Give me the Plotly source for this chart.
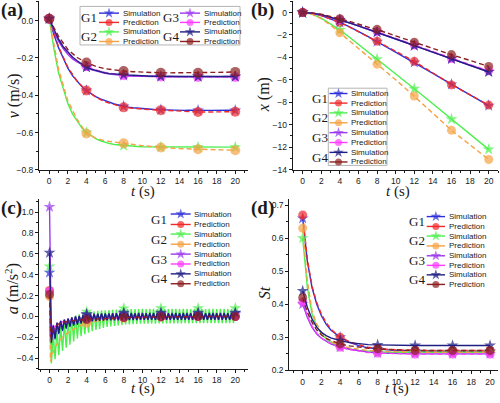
import plotly.graph_objects as go

W, H = 500, 403

# ---------------- data ----------------
groups = ["G1", "G2", "G3", "G4"]

# (a) velocity v (m/s)
t_v_sim = [i * 0.5 for i in range(41)]
v_sim = {
    "G1": [0.01, -0.075, -0.145, -0.205, -0.255, -0.295, -0.327, -0.353, -0.375, -0.392,
           -0.407, -0.42, -0.43, -0.439, -0.447, -0.454, -0.46, -0.464, -0.467, -0.47,
           -0.472, -0.474, -0.475, -0.477, -0.478, -0.479, -0.479, -0.48, -0.48, -0.481,
           -0.48, -0.481, -0.481, -0.48, -0.481, -0.481, -0.48, -0.481, -0.481, -0.48,
           -0.481],
    "G2": [0.01, -0.15, -0.28, -0.37, -0.445, -0.50, -0.54, -0.575, -0.60, -0.618,
           -0.633, -0.644, -0.653, -0.659, -0.664, -0.667, -0.67, -0.672, -0.673, -0.675,
           -0.676, -0.676, -0.677, -0.677, -0.678, -0.677, -0.678, -0.678, -0.677, -0.678,
           -0.678, -0.677, -0.678, -0.678, -0.677, -0.678, -0.678, -0.677, -0.678, -0.678,
           -0.678],
    "G3": [0.01, -0.06, -0.11, -0.15, -0.18, -0.205, -0.222, -0.238, -0.25, -0.262,
           -0.27, -0.277, -0.282, -0.286, -0.29, -0.293, -0.295, -0.297, -0.298, -0.299,
           -0.30, -0.30, -0.301, -0.30, -0.301, -0.301, -0.30, -0.301, -0.301, -0.30,
           -0.301, -0.301, -0.30, -0.301, -0.301, -0.30, -0.301, -0.301, -0.30, -0.301,
           -0.301],
    "G4": [0.01, -0.05, -0.10, -0.14, -0.17, -0.195, -0.215, -0.235, -0.25, -0.26,
           -0.268, -0.275, -0.28, -0.284, -0.287, -0.289, -0.29, -0.292, -0.293, -0.295,
           -0.296, -0.297, -0.298, -0.298, -0.299, -0.299, -0.30, -0.30, -0.30, -0.30,
           -0.30, -0.301, -0.30, -0.30, -0.301, -0.30, -0.30, -0.301, -0.30, -0.30,
           -0.30],
}
t_v_pred = list(range(21))
v_pred = {
    "G1": [0.01, -0.14, -0.25, -0.325, -0.375, -0.41, -0.435, -0.452, -0.465, -0.47, -0.475,
           -0.478, -0.48, -0.483, -0.486, -0.488, -0.49, -0.49, -0.49, -0.489, -0.488],
    "G2": [0.01, -0.26, -0.43, -0.53, -0.605, -0.63, -0.645, -0.652, -0.658, -0.665, -0.67,
           -0.675, -0.68, -0.683, -0.686, -0.688, -0.69, -0.692, -0.693, -0.694, -0.695],
    "G3": [0.01, -0.10, -0.175, -0.22, -0.245, -0.265, -0.278, -0.287, -0.293, -0.296, -0.298,
           -0.299, -0.30, -0.30, -0.301, -0.301, -0.302, -0.302, -0.302, -0.302, -0.302],
    "G4": [0.01, -0.085, -0.155, -0.198, -0.225, -0.245, -0.258, -0.265, -0.27, -0.274, -0.277,
           -0.279, -0.28, -0.28, -0.28, -0.28, -0.28, -0.279, -0.278, -0.277, -0.275],
}

# (b) displacement x (m)
t_x = list(range(21))
x_sim = {
    "G1": [0, -0.08, -0.28, -0.55, -0.88, -1.25, -1.67, -2.12, -2.6, -3.06, -3.52,
           -3.98, -4.45, -4.94, -5.43, -5.91, -6.4, -6.87, -7.35, -7.82, -8.3],
    "G2": [0, -0.14, -0.5, -1.0, -1.55, -2.18, -2.83, -3.49, -4.15, -4.82, -5.48,
           -6.14, -6.8, -7.47, -8.15, -8.82, -9.5, -10.17, -10.85, -11.52, -12.2],
    "G3": [0, -0.06, -0.2, -0.42, -0.65, -0.92, -1.2, -1.48, -1.75, -2.05, -2.35,
           -2.65, -2.95, -3.25, -3.55, -3.85, -4.15, -4.42, -4.7, -4.97, -5.25],
    "G4": [0, -0.05, -0.19, -0.41, -0.65, -0.91, -1.19, -1.47, -1.75, -2.05, -2.35,
           -2.65, -2.95, -3.24, -3.53, -3.82, -4.1, -4.4, -4.7, -5.0, -5.3],
}
x_pred = {
    "G1": [0, -0.08, -0.28, -0.56, -0.9, -1.28, -1.7, -2.12, -2.55, -3.0, -3.45,
           -3.9, -4.35, -4.88, -5.4, -5.93, -6.45, -6.9, -7.35, -7.8, -8.25],
    "G2": [0, -0.15, -0.55, -1.12, -1.8, -2.49, -3.2, -3.9, -4.6, -5.3, -6.0,
           -6.72, -7.45, -8.22, -8.98, -9.74, -10.5, -11.15, -11.8, -12.45, -13.1],
    "G3": [0, -0.06, -0.19, -0.4, -0.62, -0.88, -1.15, -1.42, -1.7, -2.0, -2.3,
           -2.6, -2.9, -3.2, -3.5, -3.8, -4.1, -4.38, -4.65, -4.92, -5.2],
    "G4": [0, -0.04, -0.15, -0.33, -0.55, -0.78, -1.02, -1.26, -1.5, -1.79, -2.08,
           -2.37, -2.65, -2.93, -3.2, -3.48, -3.75, -4.01, -4.27, -4.54, -4.8],
}

# (c) acceleration a (m/s^2)
t_a_sim = [round(i * 0.2, 1) for i in range(101)]
a_sim = {
    "G1": [0.42, -0.27, -0.10, -0.22, -0.07, -0.17, -0.05, -0.14, -0.035, -0.12,
           -0.025, -0.10, -0.015, -0.09, -0.005, -0.08, 0.0, -0.07, 0.01, -0.06,
           0.02, -0.05, 0.02, -0.045, 0.025, -0.042, 0.025, -0.04, 0.027, -0.038,
           0.028, -0.037, 0.028, -0.036, 0.029, -0.035, 0.03, -0.035, 0.03, -0.034,
           0.032, -0.034, 0.03, -0.033, 0.031, -0.033, 0.03, -0.032, 0.031, -0.032,
           0.031, -0.032, 0.03, -0.032, 0.031, -0.031, 0.031, -0.032, 0.03, -0.031,
           0.033, -0.031, 0.031, -0.031, 0.03, -0.031, 0.031, -0.03, 0.031, -0.031,
           0.03, -0.031, 0.031, -0.03, 0.031, -0.031, 0.03, -0.03, 0.031, -0.03,
           0.033, -0.03, 0.031, -0.031, 0.03, -0.03, 0.031, -0.03, 0.031, -0.03,
           0.03, -0.03, 0.031, -0.03, 0.031, -0.03, 0.03, -0.031, 0.031, -0.03,
           0.033],
    "G2": [0.48, -0.45, -0.17, -0.41, -0.12, -0.37, -0.09, -0.33, -0.06, -0.30,
           -0.03, -0.27, -0.01, -0.24, 0.01, -0.21, 0.02, -0.19, 0.03, -0.17,
           0.045, -0.155, 0.045, -0.14, 0.05, -0.13, 0.055, -0.12, 0.058, -0.11,
           0.06, -0.10, 0.062, -0.095, 0.064, -0.09, 0.066, -0.085, 0.068, -0.08,
           0.078, -0.077, 0.07, -0.075, 0.07, -0.073, 0.071, -0.072, 0.071, -0.07,
           0.072, -0.07, 0.071, -0.069, 0.072, -0.068, 0.072, -0.068, 0.071, -0.067,
           0.079, -0.067, 0.072, -0.067, 0.071, -0.066, 0.072, -0.066, 0.072, -0.066,
           0.071, -0.066, 0.072, -0.065, 0.072, -0.066, 0.071, -0.065, 0.072, -0.065,
           0.079, -0.065, 0.072, -0.065, 0.071, -0.065, 0.072, -0.064, 0.072, -0.065,
           0.071, -0.065, 0.072, -0.064, 0.072, -0.065, 0.071, -0.064, 0.072, -0.065,
           0.079],
    "G3": [1.05, -0.22, -0.08, -0.19, -0.06, -0.15, -0.04, -0.12, -0.03, -0.10,
           -0.02, -0.085, -0.012, -0.075, -0.005, -0.065, 0.0, -0.055, 0.005, -0.048,
           0.012, -0.042, 0.014, -0.038, 0.016, -0.035, 0.017, -0.033, 0.018, -0.031,
           0.019, -0.03, 0.02, -0.029, 0.02, -0.028, 0.021, -0.028, 0.021, -0.027,
           0.024, -0.027, 0.021, -0.027, 0.022, -0.026, 0.021, -0.026, 0.022, -0.026,
           0.022, -0.026, 0.021, -0.026, 0.022, -0.025, 0.022, -0.026, 0.021, -0.025,
           0.024, -0.025, 0.022, -0.025, 0.021, -0.025, 0.022, -0.025, 0.022, -0.025,
           0.021, -0.025, 0.022, -0.025, 0.022, -0.025, 0.021, -0.025, 0.022, -0.025,
           0.024, -0.025, 0.022, -0.025, 0.021, -0.025, 0.022, -0.025, 0.022, -0.025,
           0.021, -0.025, 0.022, -0.025, 0.022, -0.025, 0.021, -0.025, 0.022, -0.025,
           0.024],
    "G4": [0.61, -0.25, -0.09, -0.21, -0.06, -0.16, -0.045, -0.13, -0.03, -0.11,
           -0.02, -0.095, -0.01, -0.085, 0.0, -0.075, 0.005, -0.065, 0.012, -0.058,
           0.022, -0.05, 0.022, -0.046, 0.026, -0.043, 0.027, -0.041, 0.028, -0.039,
           0.03, -0.038, 0.03, -0.037, 0.031, -0.036, 0.031, -0.036, 0.032, -0.035,
           0.036, -0.035, 0.032, -0.034, 0.033, -0.034, 0.032, -0.034, 0.033, -0.033,
           0.033, -0.033, 0.032, -0.033, 0.033, -0.033, 0.033, -0.032, 0.032, -0.033,
           0.036, -0.032, 0.033, -0.033, 0.032, -0.032, 0.033, -0.032, 0.033, -0.032,
           0.032, -0.032, 0.033, -0.032, 0.033, -0.032, 0.032, -0.032, 0.033, -0.032,
           0.036, -0.032, 0.033, -0.032, 0.032, -0.032, 0.033, -0.032, 0.033, -0.032,
           0.032, -0.032, 0.033, -0.032, 0.033, -0.032, 0.032, -0.032, 0.033, -0.032,
           0.036],
}
t_a_pred = [0, 0.1, 0.5, 1, 1.5, 2, 3, 4, 5, 6, 8, 10, 12, 14, 16, 18, 20]
a_pred = {
    "G1": [0.25, -0.27, -0.15, -0.10, -0.075, -0.06, -0.04, -0.03, -0.022, -0.017, -0.01,
           -0.006, -0.003, -0.002, -0.001, 0.0, 0.0],
    "G2": [0.19, -0.43, -0.31, -0.24, -0.19, -0.155, -0.10, -0.065, -0.045, -0.032, -0.018,
           -0.01, -0.005, -0.003, -0.002, -0.001, 0.0],
    "G3": [0.24, -0.20, -0.10, -0.065, -0.05, -0.04, -0.03, -0.025, -0.02, -0.015, -0.008,
           -0.005, -0.003, -0.002, -0.001, 0.0, 0.0],
    "G4": [0.21, -0.20, -0.11, -0.07, -0.055, -0.045, -0.035, -0.03, -0.022, -0.017, -0.01,
           -0.006, -0.003, -0.002, -0.001, 0.0, 0.0],
}

# (d) Strouhal number St
t_st = [0, 0.5, 1, 1.5, 2, 2.5, 3, 3.5, 4, 5, 6, 7, 8, 9, 10, 11, 12, 13, 14, 15, 16, 17, 18, 19, 20]
st_sim = {
    "G1": [0.66, 0.53, 0.45, 0.40, 0.365, 0.34, 0.322, 0.31, 0.30, 0.285, 0.275, 0.268, 0.264,
           0.262, 0.26, 0.259, 0.258, 0.258, 0.257, 0.257, 0.257, 0.257, 0.257, 0.257, 0.257],
    "G2": [0.60, 0.45, 0.37, 0.335, 0.31, 0.295, 0.285, 0.278, 0.272, 0.265, 0.26, 0.258, 0.256,
           0.255, 0.255, 0.255, 0.255, 0.255, 0.255, 0.255, 0.255, 0.255, 0.255, 0.255, 0.255],
    "G3": [0.40, 0.36, 0.33, 0.31, 0.297, 0.288, 0.28, 0.275, 0.27, 0.264, 0.259, 0.255, 0.252,
           0.251, 0.25, 0.25, 0.25, 0.25, 0.25, 0.25, 0.25, 0.25, 0.25, 0.25, 0.25],
    "G4": [0.44, 0.39, 0.355, 0.33, 0.315, 0.305, 0.298, 0.293, 0.29, 0.284, 0.28, 0.278, 0.277,
           0.276, 0.275, 0.275, 0.275, 0.275, 0.275, 0.275, 0.275, 0.275, 0.275, 0.275, 0.275],
}
st_pred = {
    "G1": [0.67, 0.535, 0.455, 0.405, 0.37, 0.345, 0.325, 0.312, 0.30, 0.287, 0.277, 0.27, 0.266,
           0.264, 0.262, 0.261, 0.26, 0.26, 0.26, 0.26, 0.26, 0.26, 0.26, 0.26, 0.26],
    "G2": [0.63, 0.47, 0.38, 0.34, 0.315, 0.298, 0.287, 0.28, 0.275, 0.268, 0.263, 0.26, 0.258,
           0.257, 0.256, 0.256, 0.255, 0.255, 0.255, 0.255, 0.255, 0.255, 0.255, 0.255, 0.255],
    "G3": [0.407, 0.365, 0.333, 0.312, 0.298, 0.288, 0.281, 0.275, 0.27, 0.263, 0.258, 0.254, 0.252,
           0.251, 0.25, 0.25, 0.249, 0.249, 0.249, 0.249, 0.249, 0.249, 0.249, 0.249, 0.249],
    "G4": [0.42, 0.375, 0.345, 0.322, 0.307, 0.297, 0.29, 0.284, 0.28, 0.274, 0.27, 0.267, 0.265,
           0.263, 0.262, 0.261, 0.26, 0.26, 0.26, 0.26, 0.26, 0.26, 0.26, 0.26, 0.26],
}

# ---------------- styles ----------------
sim_color = {"G1": "#2e2ed8", "G2": "#4cf04c", "G3": "#9b38ee", "G4": "#1e1e84"}
pred_color = {"G1": "#f02a2a", "G2": "#f6a244", "G3": "#ff3cff", "G4": "#8c1f1f"}
SERIF = "Liberation Serif, Times New Roman, serif"
SANS = "Liberation Sans, Arial, sans-serif"
INK = "#1a1a1a"

fig = go.Figure()


def marked_sizes(t, size):
    return [size if abs(round(tt, 3) % 4) < 1e-9 else 0 for tt in t]


def add_series(xa, ya, t, vals, color, symbol, dash, msize):
    fig.add_trace(go.Scatter(
        x=t, y=vals, xaxis=xa, yaxis=ya, mode="lines+markers",
        line=dict(color=color, width=1.4, dash=dash),
        marker=dict(symbol=symbol, size=marked_sizes(t, msize), color=color,
                    line=dict(width=0)),
        showlegend=False, hoverinfo="skip"))


panels = [
    ("x", "y", t_v_sim, v_sim, t_v_pred, v_pred, 9, 10),
    ("x2", "y2", t_x, x_sim, t_x, x_pred, 9, 9),
    ("x3", "y3", t_a_sim, a_sim, t_a_pred, a_pred, 9, 9),
    ("x4", "y4", t_st, st_sim, t_st, st_pred, 9, 9),
]
for xa, ya, ts, sims, tp, preds, ss, cs in panels:
    for g in groups:
        add_series(xa, ya, ts, sims[g], sim_color[g], "star", "solid", ss)
        add_series(xa, ya, tp, preds[g], pred_color[g], "circle", "5px,3px", cs)


def dx(p0, p1):
    return [p0 / W, p1 / W]


def dy(top, bottom):
    return [1 - bottom / H, 1 - top / H]


def axis(domain, rng, dtick, mdtick, anchor, fmt=None):
    d = dict(domain=domain, range=rng, anchor=anchor, showline=True, linecolor=INK,
             linewidth=1, ticks="outside", ticklen=3, tickwidth=1, tickcolor=INK,
             showgrid=False, zeroline=False, dtick=dtick, tick0=0,
             tickfont=dict(family=SANS, size=8.5, color=INK),
             minor=dict(ticks="outside", ticklen=2, tickwidth=1, tickcolor=INK,
                        dtick=mdtick, tick0=0, showgrid=False))
    if fmt:
        d["tickformat"] = fmt
    return d


layout = dict(
    width=W, height=H, margin=dict(l=0, r=0, t=0, b=0),
    paper_bgcolor="white", plot_bgcolor="rgba(0,0,0,0)",
    showlegend=False,
    xaxis=axis(dx(39, 248), [-1.1, 21.37], 2, 1, "y"),
    yaxis=axis(dy(1, 172), [-0.8, 0.105], 0.2, 0.1, "x", ".1f"),
    xaxis2=axis(dx(292.7, 498), [-1.07, 21.0], 2, 1, "y2"),
    yaxis2=axis(dy(1, 171.7), [-14, 1.03], 2, 1, "x2"),
    xaxis3=axis(dx(39.3, 248), [-1.1, 21.37], 2, 1, "y3"),
    yaxis3=axis(dy(201, 373.3), [-0.5, 1.13], 0.2, 0.1, "x3", ".1f"),
    xaxis4=axis(dx(289.3, 498), [-1.43, 20.85], 2, 1, "y4"),
    yaxis4=axis(dy(201, 375), [0.2, 0.72], 0.1, 0.05, "x4", ".1f"),
    xaxis5=dict(domain=[0, 1], range=[0, W], visible=False, anchor="y5", fixedrange=True),
    yaxis5=dict(domain=[0, 1], range=[H, 0], visible=False, anchor="x5", fixedrange=True),
)
fig.update_layout(**layout)

annotations = []
shapes = []


def text(x, y, s, size, family, angle=0, anchor="center", color=INK):
    annotations.append(dict(x=x, y=y, xref="x5", yref="y5", text=s, showarrow=False,
                            font=dict(family=family, size=size, color=color),
                            textangle=angle, xanchor=anchor, yanchor="middle"))


# panel labels
for lab, x, y in [("(a)", 11.5, 10.5), ("(b)", 262, 10.5), ("(c)", 11, 211), ("(d)", 262, 211)]:
    text(x, y, "<b>" + lab + "</b>", 19, SERIF)

# axis titles
text(143, 194, "<i>t</i> (s)", 15, SERIF)
text(398, 194, "<i>t</i> (s)", 15, SERIF)
text(143, 393.5, "<i>t</i> (s)", 15, SERIF)
text(397, 393.5, "<i>t</i> (s)", 15, SERIF)
text(13.5, 97, "<i>v</i> (m/s)", 16, SERIF, angle=-90)
text(263.5, 96, "<i>x</i> (m)", 16, SERIF, angle=-90)
text(12, 293, "<i>a</i> (m/s<sup>2</sup>)", 16, SERIF, angle=-90)
text(264, 297, "<i>St</i>", 16, SERIF, angle=-90)


def legend_entry(x0, x1, y, color, symbol, label, size):
    fig.add_trace(go.Scatter(
        x=[x0, (x0 + x1) / 2, x1], y=[y, y, y], xaxis="x5", yaxis="y5",
        mode="lines+markers", line=dict(color=color, width=1.4),
        marker=dict(symbol=symbol, size=[0, size, 0], color=color, line=dict(width=0)),
        showlegend=False, hoverinfo="skip"))
    text(x1 + 1.5, y, label, 8, SANS, anchor="left")


def legend_group(g, gx, x0, x1, y_sim, y_pred):
    text(gx, (y_sim + y_pred) / 2, g, 13, SERIF)
    legend_entry(x0, x1, y_sim, sim_color[g], "star", "Simulation", 8)
    legend_entry(x0, x1, y_pred, pred_color[g], "circle", "Prediction", 7)


# legend (a): boxed, two columns
shapes.append(dict(type="rect", xref="x5", yref="y5", x0=80, x1=240, y0=6.5, y1=45.5,
                   line=dict(color="#b4b4b4", width=1), fillcolor="white", layer="below"))
legend_group("G1", 89, 99, 119, 13.3, 22.7)
legend_group("G2", 89, 99, 119, 32.3, 42)
legend_group("G3", 170.5, 180, 200, 13.3, 22.7)
legend_group("G4", 170.5, 180, 200, 32.3, 42)

# legend (b): boxed, single column, G labels outside
shapes.append(dict(type="rect", xref="x5", yref="y5", x0=328.3, x1=387, y0=89.3, y1=167.5,
                   line=dict(color="#b4b4b4", width=1), fillcolor="white", layer="below"))
rows_b = [94.7, 104.4, 114.3, 124.3, 134.3, 144.3, 154.3, 164]
for i, g in enumerate(groups):
    legend_group(g, 319.5, 329.5, 347.5, rows_b[2 * i], rows_b[2 * i + 1])

# legend (c)
rows_c = [216.7, 227.3, 237, 247.3, 257.3, 267.3, 277.3, 287.3]
for i, g in enumerate(groups):
    legend_group(g, 159, 170.7, 190.7, rows_c[2 * i], rows_c[2 * i + 1])

# legend (d)
rows_d = [219.3, 229.3, 239, 249, 259, 268.7, 278.3, 288]
for i, g in enumerate(groups):
    legend_group(g, 416.5, 426.7, 445, rows_d[2 * i], rows_d[2 * i + 1])

fig.update_layout(annotations=annotations, shapes=shapes)
fig.write_html("out.html", config={"displayModeBar": False, "staticPlot": True})

# remove the default page margin so the 500x403 figure fills the window exactly
with open("out.html", "r", encoding="utf-8") as f:
    html = f.read()
html = html.replace("<head>", "<head><style>html,body{margin:0;padding:0;overflow:hidden;}</style>", 1)
with open("out.html", "w", encoding="utf-8") as f:
    f.write(html)
